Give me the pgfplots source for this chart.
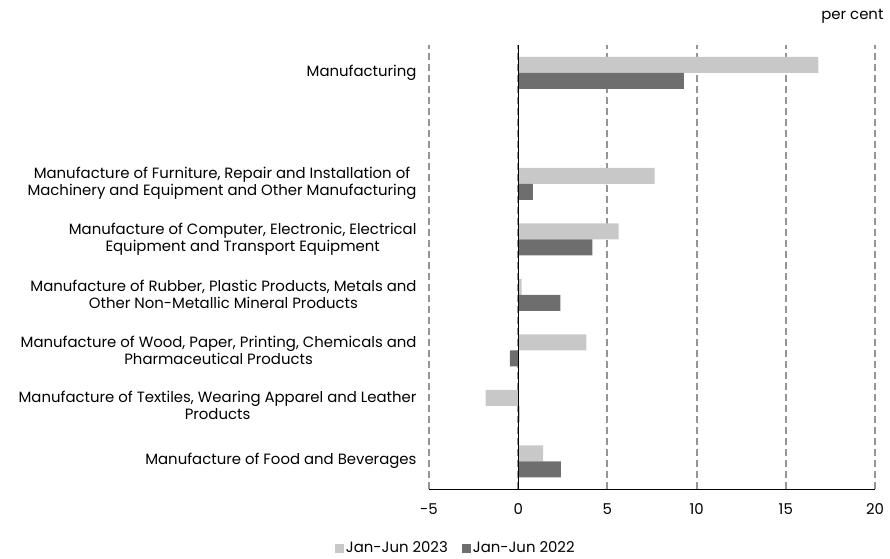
\documentclass[border=0pt]{standalone}
\usepackage{pgfplots}
\pgfplotsset{compat=1.18}
\usepackage{fontspec}
\setmainfont{Poppins}
\definecolor{light}{HTML}{C8C8C8}
\definecolor{dark}{HTML}{6E6E6E}
\definecolor{gridc}{HTML}{959595}
\newcommand{\lf}{\fontsize{14.9}{17}\selectfont}
\begin{document}
\begin{tikzpicture}
\begin{axis}[
  scale only axis,
  width=446pt, height=444pt,
  xmin=-5, xmax=20, ymin=-0.5, ymax=7.5,
  xbar, bar width=16pt,
  xtick={-5,0,5,10,15,20},
  ytick={0,1,2,3,4,5,7},
  yticklabels={
    {Manufacture of Food and Beverages},
    {Manufacture of Textiles, Wearing Apparel and Leather\\Products},
    {Manufacture of Wood, Paper, Printing, Chemicals and\\Pharmaceutical Products},
    {Manufacture of Rubber, Plastic Products, Metals and\\Other Non-Metallic Mineral Products},
    {Manufacture of Computer, Electronic, Electrical\\Equipment and Transport Equipment},
    {Manufacture of Furniture, Repair and Installation of\\Machinery and Equipment and Other Manufacturing},
    {Manufacturing}},
  yticklabel style={align=center, font=\lf, xshift=-9pt},
  xticklabel style={font=\lf, yshift=-11pt},
  /pgf/number format/assume math mode=true,
  major tick length=0pt,
  axis line style={draw=none},
  xmajorgrids,
  major grid style={draw=gridc, line width=2pt, dash pattern=on 7pt off 4pt},
  legend style={draw=none, at={(0.06,-0.133)}, anchor=center, legend columns=2,
    font=\lf,
    /tikz/every even column/.append style={column sep=12pt}},
  legend image code/.code={\fill[#1] (0pt,-4.5pt) rectangle (9pt,4.5pt);},
  clip=false,
]
\addplot[fill=light, draw=none, bar shift=8pt] coordinates {
  (1.40,0) (-1.83,1) (3.82,2) (0.19,3) (5.63,4) (7.65,5) (16.83,7)};
\addlegendentry{Jan-Jun 2023}
\addplot[fill=dark, draw=none, bar shift=-8pt] coordinates {
  (2.39,0) (0.07,1) (-0.47,2) (2.37,3) (4.16,4) (0.82,5) (9.29,7)};
\addlegendentry{Jan-Jun 2022}
\draw[black, line width=1pt] (axis cs:0,-0.5) -- (axis cs:0,7.5);
\draw[black, line width=1pt] (axis cs:-5,-0.5) -- (axis cs:20,-0.5);
\coordinate (o) at (rel axis cs:0,0);
\node[anchor=east, font=\lf] at ([xshift=12pt,yshift=29pt]rel axis cs:1,1) {per cent};
\end{axis}
\pgfresetboundingbox
\path (o) ++(-429pt,-69pt) rectangle ++(890pt,558pt);
\end{tikzpicture}
\end{document}
